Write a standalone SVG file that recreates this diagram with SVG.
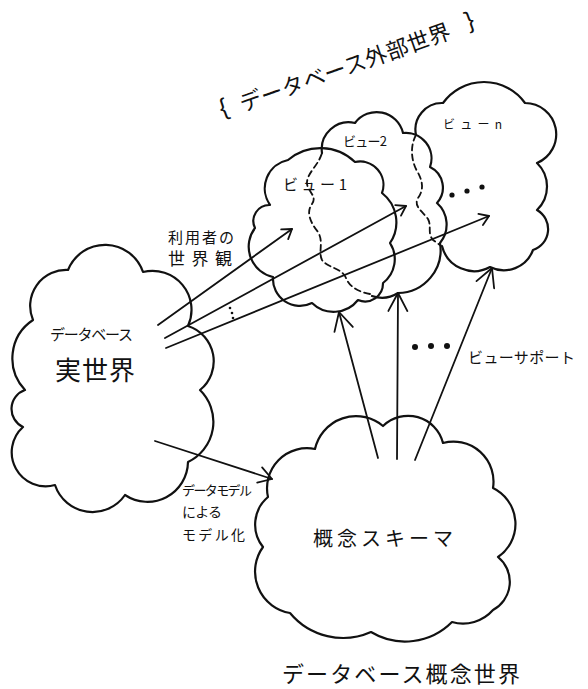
<svg xmlns="http://www.w3.org/2000/svg" width="588" height="689" viewBox="0 0 588 689">
<defs>
<style>
.cloud{fill:none;stroke:#111;stroke-width:2.2;stroke-linejoin:round;stroke-linecap:round}
.hidden{fill:none;stroke:#111;stroke-width:1.8;stroke-dasharray:6 4;stroke-linecap:round}
.arrow{fill:none;stroke:#111;stroke-width:1.8;stroke-linecap:round}
.head{fill:none;stroke:#111;stroke-width:1.8;stroke-linecap:round;stroke-linejoin:round}
.dot{fill:#111}
text{font-family:"Noto Sans CJK JP","Noto Sans",sans-serif;fill:#111}
.brace{font-family:"Liberation Sans",sans-serif}
</style>
<marker id="sm" viewBox="-24 -12 26 24" markerWidth="26" markerHeight="24" refX="0" refY="0" orient="auto" markerUnits="userSpaceOnUse">
<path class="head" d="M-9,-6 L0,0 L-9,6"/>
</marker>
<marker id="md" viewBox="-24 -12 26 24" markerWidth="26" markerHeight="24" refX="0" refY="0" orient="auto" markerUnits="userSpaceOnUse">
<path class="head" d="M-13,-8 L0,0 L-13,8"/>
</marker>
<marker id="lg" viewBox="-24 -12 26 24" markerWidth="26" markerHeight="24" refX="0" refY="0" orient="auto" markerUnits="userSpaceOnUse">
<path class="head" d="M-18,-9.5 L0,0 L-18,9.5"/>
</marker>
</defs>
<rect width="588" height="689" fill="#fff"/>

<g id="title">
<g transform="translate(243,112) rotate(-19.5)">
<text class="brace" x="-21" y="-3" font-size="24">{</text>
<text x="0" y="0" font-size="22" textLength="222" lengthAdjust="spacing">データベース外部世界</text>
<text class="brace" x="240" y="-3" font-size="24">}</text>
</g>
</g>

<g id="node-real-world">
<path class="cloud" d="M68,270 A40,40 0 0 1 143,272 A39,39 0 0 1 188,326 A37,37 0 0 1 200,390 A44.5,44.5 0 0 1 188,462 A40.5,40.5 0 0 1 125,495 A39.5,39.5 0 0 1 55,485 A34,34 0 0 1 23,427 A20,20 0 0 1 25,390 A46,46 0 0 1 33,320 A36,36 0 0 1 68,270 Z"/>
<text x="50" y="340" font-size="15" textLength="83" lengthAdjust="spacing">データベース</text>
<text x="55" y="380" font-size="26" textLength="80" lengthAdjust="spacing">実世界</text>
</g>

<g id="node-view-n">
<path class="cloud" d="M416,135 A26.6,26.6 0 0 1 443,103 A50.5,50.5 0 0 1 525,103 A31.2,31.2 0 0 1 537,163 A32.6,32.6 0 0 1 537,210 A22,22 0 0 1 533,250 A31,31 0 0 1 490,267 A33,33 0 0 1 442,246"/>
<path class="hidden" d="M416,135 C410,146 411,160 417,171 C423,181 424,190 418,198 C413,206 423,212 428,219 C432,227 427,233 433,240 L440,245"/>
<text x="443" y="129" font-size="12" textLength="59" lengthAdjust="spacing">ビューn</text>
<circle class="dot" cx="452" cy="195" r="2.6"/>
<circle class="dot" cx="467" cy="191" r="2.6"/>
<circle class="dot" cx="482" cy="187" r="2.6"/>
</g>

<g id="node-view-2">
<path class="cloud" d="M322,153 A27,27 0 0 1 355,123 A27,27 0 0 1 403,133 A25.6,25.6 0 0 1 430,167 A23,23 0 0 1 437,203 A29,29 0 0 1 440,243 A43,43 0 0 1 398,293 A30,30 0 0 1 372,296"/>
<path class="hidden" d="M370,294 C360,292 350,288 346,278 C342,268 328,268 322,260 C318,252 324,242 318,232 C310,222 306,212 312,204 C318,196 306,190 307,182 C308,172 318,166 322,153"/>
<text x="343" y="146" font-size="13" textLength="44" lengthAdjust="spacing">ビュー2</text>
</g>

<g id="node-view-1">
<path class="cloud" d="M288,160 A50,50 0 0 1 355,162 A23.5,23.5 0 0 1 382,193 A37,37 0 0 1 390,243 A30,30 0 0 1 383,283 A18,18 0 0 1 358,300 A31,31 0 0 1 312,303 A27,27 0 0 1 273,277 A31,31 0 0 1 255,228 A16,16 0 0 1 270,205 A29,29 0 0 1 288,160 Z"/>
<text x="283" y="190" font-size="15" textLength="64" lengthAdjust="spacing">ビュー1</text>
</g>

<g id="node-concept">
<path class="cloud" d="M268,497 A40,40 0 0 1 315,449 A42,42 0 0 1 383,426 A36,36 0 0 1 443,443 A40,40 0 0 1 493,488 A40,40 0 0 1 498,557 A32,32 0 0 1 493,610 A40,40 0 0 1 452,622 A66,66 0 0 1 371,632 A69,69 0 0 1 290,613 A42,42 0 0 1 263,547 A36,36 0 0 1 268,497 Z"/>
<text x="313" y="546" font-size="20" textLength="140" lengthAdjust="spacing">概念スキーマ</text>
</g>

<g id="connectors">
<line class="arrow" x1="158" y1="325" x2="292" y2="229" marker-end="url(#sm)"/>
<line class="arrow" x1="165" y1="338" x2="406" y2="206" marker-end="url(#sm)"/>
<line class="arrow" x1="166" y1="348" x2="489" y2="216" marker-end="url(#sm)"/>
<line class="arrow" x1="155" y1="441" x2="272" y2="479" marker-end="url(#md)"/>
<line class="arrow" x1="378" y1="458" x2="339" y2="312" marker-end="url(#lg)"/>
<line class="arrow" x1="397" y1="459" x2="398" y2="293" marker-end="url(#lg)"/>
<line class="arrow" x1="415" y1="460" x2="492" y2="268" marker-end="url(#lg)"/>
<circle class="dot" cx="230" cy="308" r="1.3"/>
<circle class="dot" cx="232" cy="313" r="1.3"/>
<circle class="dot" cx="233" cy="318" r="1.3"/>
<circle class="dot" cx="415" cy="347" r="3"/>
<circle class="dot" cx="431" cy="346" r="3"/>
<circle class="dot" cx="447" cy="346" r="3"/>
</g>

<g id="labels">
<text x="168" y="243" font-size="15" textLength="66" lengthAdjust="spacing">利用者の</text>
<text x="168" y="265" font-size="17" textLength="64" lengthAdjust="spacing">世界観</text>
<text x="182" y="495" font-size="13" textLength="70" lengthAdjust="spacing">データモデル</text>
<text x="182" y="517" font-size="14" textLength="40" lengthAdjust="spacing">による</text>
<text x="182" y="540" font-size="14" textLength="63" lengthAdjust="spacing">モデル化</text>
<text x="468" y="363" font-size="15" textLength="107" lengthAdjust="spacing">ビューサポート</text>
<text x="282" y="682" font-size="22" textLength="238" lengthAdjust="spacing">データベース概念世界</text>
</g>
</svg>
